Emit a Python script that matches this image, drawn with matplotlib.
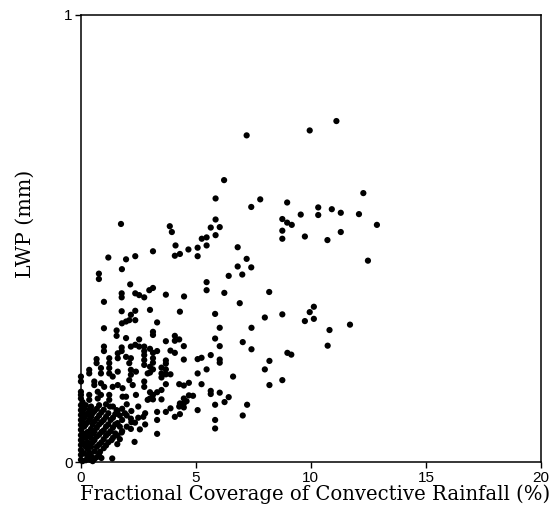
import matplotlib
matplotlib.use("Agg")
import matplotlib.pyplot as plt
import numpy as np

# (coverage %, LWP mm)
right_pts = [
    (7.21,0.731),(9.95,0.742),(11.11,0.763),(6.23,0.631),(5.86,0.590),(7.41,0.571),(7.80,0.588),
    (8.97,0.581),(12.28,0.602),(10.32,0.570),(10.91,0.566),(11.30,0.558),(12.09,0.555),(9.56,0.554),
    (10.32,0.553),(8.76,0.544),(8.97,0.536),(9.17,0.531),(12.87,0.531),(5.86,0.543),(5.65,0.525),
    (6.04,0.526),(8.76,0.518),(5.86,0.508),(5.47,0.503),(5.26,0.500),(9.74,0.505),(8.76,0.500),
    (10.72,0.497),(11.30,0.515),(5.47,0.485),(5.08,0.480),(4.68,0.476),(4.31,0.466),(5.08,0.461),
    (6.82,0.481),(7.21,0.455),(6.82,0.438),(7.41,0.436),(6.43,0.417),(7.02,0.420),(12.48,0.451),
    (5.47,0.403),(5.47,0.385),(6.24,0.379),(8.19,0.381),(4.49,0.371),(6.91,0.356),(11.70,0.308),
    (10.81,0.296),(10.73,0.261),(8.00,0.324),(8.76,0.331),(10.13,0.348),(9.95,0.336),(10.13,0.321),
    (9.74,0.316),(7.42,0.301),(7.04,0.269),(7.42,0.253),(8.98,0.245),(9.15,0.241),(8.20,0.227),
    (8.00,0.208),(8.76,0.184),(8.20,0.173),(7.23,0.129),(7.04,0.105),
]

mid_pts = [
    (4.12,0.485),(3.14,0.472),(4.09,0.462),(3.14,0.390),(3.70,0.375),(4.31,0.337),(5.84,0.332),
    (6.04,0.301),(3.01,0.341),(3.32,0.313),(3.14,0.292),(3.14,0.285),(4.09,0.283),(4.28,0.275),
    (4.09,0.272),(3.70,0.271),(4.48,0.260),(5.84,0.277),(6.04,0.260),(3.01,0.254),(3.32,0.249),
    (3.14,0.245),(3.90,0.250),(4.09,0.245),(3.14,0.233),(3.14,0.223),(4.48,0.230),(3.70,0.228),
    (3.70,0.221),(5.08,0.231),(5.25,0.234),(5.65,0.240),(6.04,0.230),(6.04,0.223),(3.01,0.214),
    (3.14,0.208),(3.51,0.212),(3.70,0.208),(3.51,0.199),(3.70,0.197),(3.90,0.197),(5.47,0.208),
    (5.08,0.199),(3.01,0.201),(3.51,0.190),(6.62,0.192),(3.70,0.175),(4.28,0.175),(4.48,0.172),
    (4.70,0.178),(5.25,0.175),(5.65,0.160),(5.65,0.153),(6.04,0.156),(6.43,0.146),(6.25,0.135),
    (5.84,0.129),(3.01,0.157),(3.14,0.151),(3.32,0.157),(3.51,0.162),(3.01,0.143),(3.14,0.141),
    (3.51,0.141),(4.48,0.143),(4.70,0.150),(4.88,0.149),(4.60,0.137),(4.31,0.132),(4.48,0.132),
    (4.48,0.123),(4.28,0.125),(5.08,0.117),(3.32,0.113),(3.70,0.113),(3.90,0.121),(4.09,0.102),
    (4.31,0.108),(3.32,0.095),(5.84,0.095),(5.84,0.076),(3.32,0.064),(3.87,0.528),(3.96,0.515),
    (1.75,0.533),
]

left_pts = [
    (1.20,0.458),(1.97,0.454),(2.37,0.461),(0.79,0.422),(0.79,0.410),(1.79,0.432),(2.15,0.398),
    (1.78,0.378),(1.78,0.369),(2.37,0.378),(2.54,0.374),(2.76,0.369),(2.98,0.385),(1.01,0.359),
    (1.78,0.338),(2.37,0.339),(2.18,0.330),(2.11,0.318),(1.97,0.315),(1.79,0.311),(2.37,0.318),
    (1.01,0.300),(1.56,0.295),(1.56,0.283),(1.97,0.278),(2.54,0.275),(1.01,0.259),(1.78,0.257),
    (2.18,0.259),(2.37,0.263),(2.54,0.259),(1.01,0.249),(1.78,0.249),(2.76,0.259),(2.76,0.249),
    (0.69,0.231),(0.69,0.222),(1.24,0.233),(1.24,0.222),(1.61,0.244),(1.61,0.233),(1.97,0.236),
    (2.18,0.233),(2.11,0.222),(2.76,0.240),(2.76,0.229),(2.76,0.218),(0.37,0.207),(0.37,0.199),
    (0.88,0.211),(0.88,0.199),(1.24,0.211),(1.24,0.199),(1.39,0.192),(1.61,0.203),(2.18,0.207),
    (2.40,0.203),(2.18,0.196),(2.91,0.199),(0.01,0.192),(0.01,0.181),(0.59,0.181),(0.59,0.173),
    (0.88,0.177),(1.02,0.169),(1.39,0.169),(1.61,0.173),(1.82,0.166),(2.11,0.184),(2.26,0.173),
    (2.76,0.181),(2.76,0.169),(0.01,0.158),(0.01,0.151),(0.01,0.143),(0.37,0.151),(0.37,0.140),
    (0.74,0.158),(0.88,0.151),(0.74,0.143),(1.24,0.151),(1.24,0.140),(1.82,0.147),(1.97,0.147),
    (2.40,0.151),(2.91,0.140),
]

base_pts = [
    (0.01,0.128),(0.01,0.117),(0.01,0.106),(0.01,0.095),(0.01,0.084),(0.01,0.073),(0.01,0.061),
    (0.01,0.050),(0.01,0.039),(0.01,0.028),(0.01,0.017),(0.01,0.006),
    (0.15,0.120),(0.15,0.100),(0.15,0.080),(0.15,0.060),(0.15,0.040),(0.15,0.020),
    (0.30,0.110),(0.30,0.090),(0.30,0.068),(0.30,0.045),(0.30,0.030),(0.30,0.012),
    (0.45,0.125),(0.45,0.102),(0.45,0.075),(0.45,0.055),(0.45,0.035),(0.45,0.015),
    (0.60,0.115),(0.60,0.092),(0.60,0.070),(0.60,0.050),(0.60,0.025),(0.60,0.008),
    (0.80,0.128),(0.80,0.105),(0.80,0.085),(0.80,0.062),(0.80,0.040),(0.80,0.020),
    (1.00,0.118),(1.00,0.095),(1.00,0.072),(1.00,0.052),(1.00,0.032),
    (1.20,0.110),(1.20,0.085),(1.20,0.065),(1.20,0.045),
    (1.40,0.125),(1.40,0.100),(1.40,0.078),(1.40,0.055),
    (1.60,0.115),(1.60,0.088),(1.60,0.060),
    (1.80,0.120),(1.80,0.095),(1.80,0.070),
    (2.00,0.130),(2.00,0.105),(2.00,0.080),
    (2.20,0.115),(2.20,0.090),(2.50,0.125),(2.50,0.100),(2.80,0.110),(2.80,0.085),
    (1.37,0.009),(2.34,0.046),(1.78,0.067),(2.18,0.075),(2.57,0.074),(1.59,0.041),(1.34,0.050),
    (0.84,0.024),(0.40,0.006),(2.36,0.089),(2.72,0.102),(2.18,0.098),(1.92,0.110),(1.56,0.117),
    (1.27,0.125),
]

dense_pts = [
    (0.08,0.135),(0.08,0.112),(0.08,0.090),(0.08,0.066),(0.08,0.045),(0.08,0.022),(0.08,0.003),
    (0.22,0.128),(0.22,0.105),(0.22,0.085),(0.22,0.055),(0.22,0.035),(0.22,0.005),
    (0.38,0.118),(0.38,0.095),(0.38,0.060),(0.38,0.040),(0.38,0.022),
    (0.52,0.110),(0.52,0.085),(0.52,0.065),(0.52,0.045),(0.52,0.003),
    (0.70,0.120),(0.70,0.098),(0.70,0.078),(0.70,0.058),(0.70,0.035),(0.70,0.012),
    (0.90,0.112),(0.90,0.090),(0.90,0.068),(0.90,0.045),(0.90,0.010),
    (1.10,0.130),(1.10,0.102),(1.10,0.080),(1.10,0.060),(1.10,0.038),
    (1.30,0.095),(1.30,0.070),(1.50,0.108),(1.50,0.085),(1.50,0.065),
    (1.70,0.105),(1.70,0.080),(1.70,0.052),
]

x_ticks = [0, 5, 10, 15, 20]
y_ticks = [0, 1]
x_label = "Fractional Coverage of Convective Rainfall (%)"
y_label = "LWP (mm)"

pts = np.array(right_pts + mid_pts + left_pts + base_pts + dense_pts)

fig = plt.figure(figsize=(5.57, 5.05), dpi=100)
ax = fig.add_axes([0.1449, 0.0842, 0.8264, 0.8861])
ax.scatter(pts[:, 0], pts[:, 1], s=20, c="black", edgecolors="none", clip_on=False, zorder=3)

ax.set_xlim(0, 20)
ax.set_ylim(0, 1)
ax.set_xticks(x_ticks)
ax.set_yticks(y_ticks)
ax.set_xticklabels([str(t) for t in x_ticks], fontfamily="Liberation Sans", fontsize=11)
ax.set_yticklabels([str(t) for t in y_ticks], fontfamily="Liberation Sans", fontsize=11)
ax.tick_params(direction="out", length=4, width=1.0, pad=2, color="black")
for sp in ax.spines.values():
    sp.set_linewidth(1.1)

xl = fig.text(315/557, 1 - 494/505, x_label, ha="center", va="center",
              fontfamily="DejaVu Serif", fontsize=12)
yl = fig.text(25/557, 1 - 224/505, y_label, ha="center", va="center", rotation=90,
              fontfamily="DejaVu Serif", fontsize=16)

# scale label fonts so their extents match the reference (466 px wide, 108 px tall)
fig.canvas.draw()
r = fig.canvas.get_renderer()
wx = xl.get_window_extent(r).width
xl.set_fontsize(12 * 466.0 / wx)
hy = yl.get_window_extent(r).height
yl.set_fontsize(16 * 108.0 / hy)

fig.savefig("out.png", dpi=100)
